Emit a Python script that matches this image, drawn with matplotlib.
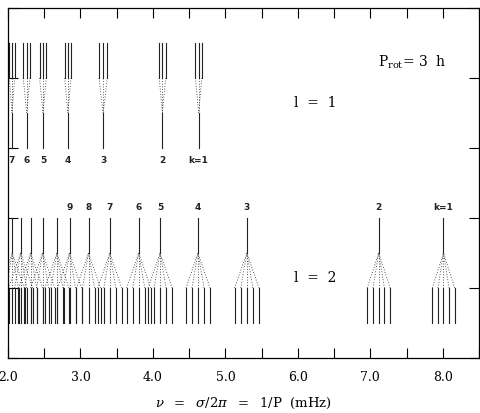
import matplotlib
matplotlib.use("Agg")
import matplotlib.pyplot as plt
from matplotlib.ticker import MultipleLocator, NullFormatter, FormatStrFormatter

# ---- data (frequencies in mHz) ----
l1_k = [1, 2, 3, 4, 5, 6, 7]
l1_nu = [4.631, 4.131, 3.313, 2.826, 2.482, 2.257, 2.055]
l1_split = [0.044, 0.044, 0.058, 0.044, 0.046, 0.046, 0.037]
l1_labels = ["k=1", "2", "3", "4", "5", "6", "7"]

l2_k = [1, 2, 3, 4, 5, 6, 7, 8, 9, 10, 11, 12, 13, 14]
l2_nu = [8.010, 7.116, 5.296, 4.622, 4.099, 3.804, 3.405, 3.111, 2.849,
         2.675, 2.478, 2.313, 2.175, 2.059]
l2_split = [0.077, 0.079, 0.084, 0.083, 0.083, 0.083, 0.083, 0.083, 0.083,
            0.083, 0.083, 0.083, 0.083, 0.083]
l2_labels = ["k=1", "2", "3", "4", "5", "6", "7", "8", "9",
             "", "", "", "", ""]

plt.rcParams['mathtext.fontset'] = 'dejavuserif'

fig = plt.figure(figsize=(4.81, 4.14), dpi=100)
ax = fig.add_axes([8/481, 55/414, 471/481, 350/414])
ax.set_xlim(2.0, 8.5)
ax.set_ylim(0, 5)

lc = '#222222'
lw = 0.8
dot = dict(color=lc, lw=0.6, linestyle=(0, (1, 2.2)))

# l = 1 triplets
for nu, s, lab in zip(l1_nu, l1_split, l1_labels):
    for m in (-1, 0, 1):
        f = nu + m * s
        ax.plot([f, f], [4.0, 4.5], color=lc, lw=lw)
        ax.plot([f, nu], [4.0, 3.5], **dot)
    ax.plot([nu, nu], [3.0, 3.5], color=lc, lw=lw)
    ax.text(nu, 2.83, lab, ha='center', va='center', fontsize=6.5,
            fontweight='bold', family='DejaVu Sans', color='#222222')

# l = 2 quintuplets
for nu, s, lab in zip(l2_nu, l2_split, l2_labels):
    for m in (-2, -1, 0, 1, 2):
        f = nu + m * s
        ax.plot([f, f], [0.5, 1.0], color=lc, lw=lw)
        ax.plot([f, nu], [1.0, 1.5], **dot)
    ax.plot([nu, nu], [1.5, 2.0], color=lc, lw=lw)
    if lab:
        ax.text(nu, 2.16, lab, ha='center', va='center', fontsize=6.5,
                fontweight='bold', family='DejaVu Sans', color='#222222')

ax.text(6.24, 3.66, "l  =  1", ha='center', va='center', fontsize=10,
        family='DejaVu Serif')
ax.text(6.24, 1.16, "l  =  2", ha='center', va='center', fontsize=10,
        family='DejaVu Serif')
ax.text(7.10, 4.24, r"$\mathrm{P_{rot}}$= 3  h", ha='left', va='center',
        fontsize=10, family='DejaVu Serif')

ax.xaxis.set_major_locator(MultipleLocator(1.0))
ax.xaxis.set_minor_locator(MultipleLocator(0.5))
ax.xaxis.set_major_formatter(FormatStrFormatter('%.1f'))
ax.yaxis.set_major_locator(MultipleLocator(1.0))
ax.yaxis.set_major_formatter(NullFormatter())
ax.tick_params(axis='both', which='both', direction='in', length=7,
               width=0.8, top=True, right=True, labelsize=9, pad=9)
ax.tick_params(axis='y', which='minor', left=False, right=False)
for lab in ax.get_xticklabels():
    lab.set_family('DejaVu Serif')
for sp in ax.spines.values():
    sp.set_linewidth(0.9)

ax.set_xlabel(r"$\nu\ \ =\ \ \sigma/2\pi\ \ =\ \ 1/\mathrm{P}\ \ (\mathrm{mHz})$",
              fontsize=9.5, labelpad=8)

fig.savefig("out.png", dpi=100)
